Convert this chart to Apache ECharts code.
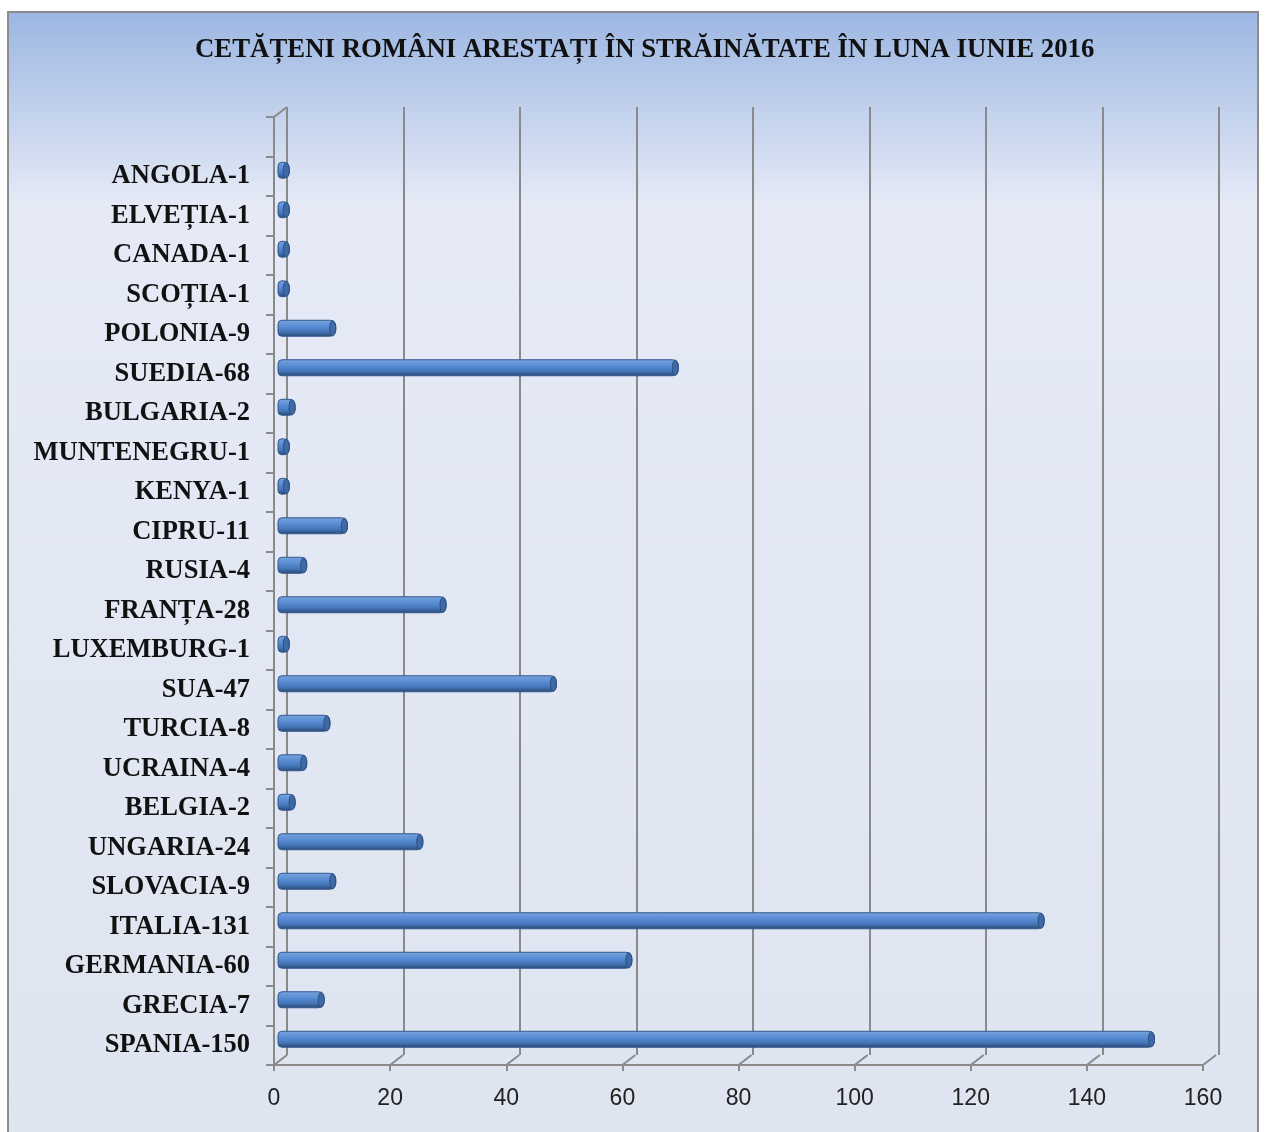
<!DOCTYPE html>
<html><head><meta charset="utf-8">
<script src="https://cdn.jsdelivr.net/npm/echarts@6/dist/echarts.min.js"></script>
<style>html,body{margin:0;padding:0;background:#fff;}#c{width:1267px;height:1132px;}</style>
</head><body><div id="c"></div>
<script>
// bottom-to-top order
const countries = ['SPANIA','GRECIA','GERMANIA','ITALIA','SLOVACIA','UNGARIA','BELGIA','UCRAINA','TURCIA','SUA','LUXEMBURG','FRANȚA','RUSIA','CIPRU','KENYA','MUNTENEGRU','BULGARIA','SUEDIA','POLONIA','SCOȚIA','CANADA','ELVEȚIA','ANGOLA'];
const values = [150,7,60,131,9,24,2,4,8,47,1,28,4,11,1,1,2,68,9,1,1,1,1];
const xTicks = [0,20,40,60,80,100,120,140,160];
const titleText = 'CETĂȚENI ROMÂNI ARESTAȚI ÎN STRĂINĂTATE ÎN LUNA IUNIE 2016';

const labels = countries.map((c,i)=>c+'-'+values[i]).concat(['']);

const dx = 13, dy = 10;
const front = {left:274, right:64, top:117, bottom:67};
const mid = {left:front.left+dx/2, right:front.right-dx/2, top:front.top-dy/2, bottom:front.bottom+dy/2};
const back = {left:front.left+dx, right:front.right-dx-3, top:front.top-dy, bottom:front.bottom+dy};
const gridCol = '#8a8a8a';

const chart = echarts.init(document.getElementById('c'), null, {renderer:'canvas'});
const valAxisBase = {type:'value', min:0, max:160, interval:20};
chart.setOption({
  backgroundColor:'#ffffff',
  animation:false,
  graphic:[{type:'rect', z:-10, shape:{x:8,y:12,width:1250,height:1130},
    style:{fill:{type:'linear',x:0,y:0,x2:0,y2:1,colorStops:[{offset:0,color:'#9cb6e2'},{offset:0.17,color:'#e5eaf6'},{offset:1,color:'#dee4f0'}]}, stroke:'#8c8c8c', lineWidth:2}}],
  title:{text:titleText, left:190, top:32, textStyle:{fontFamily:'Liberation Serif', fontWeight:'bold', fontSize:26.8, color:'#111'}},
  grid:[
    {left:front.left,right:front.right,top:front.top,bottom:front.bottom},
    {left:mid.left,right:mid.right,top:mid.top,bottom:mid.bottom},
    {left:back.left,right:back.right,top:back.top,bottom:back.bottom}
  ],
  xAxis:[
    Object.assign({gridIndex:0, axisLine:{show:true,lineStyle:{color:gridCol,width:2}}, axisTick:{show:true,length:6,lineStyle:{color:gridCol,width:2}},
      splitLine:{show:false}, axisLabel:{margin:22,fontFamily:'Liberation Sans',fontSize:23,color:'#222'}}, valAxisBase),
    Object.assign({gridIndex:1, show:false}, valAxisBase),
    Object.assign({gridIndex:2, axisLine:{show:false}, axisTick:{show:false}, axisLabel:{show:false}, splitLine:{show:true,lineStyle:{color:gridCol,width:2}}}, valAxisBase)
  ],
  yAxis:[
    {type:'category', gridIndex:0, data:labels, axisLine:{show:true,lineStyle:{color:gridCol,width:2}}, axisTick:{show:true,length:8,inside:false,lineStyle:{color:gridCol,width:2}},
      axisLabel:{margin:24,fontFamily:'Liberation Serif',fontWeight:'bold',fontSize:26.5,color:'#111'}},
    {type:'category', gridIndex:1, data:labels, show:false},
    {type:'category', gridIndex:2, data:labels, show:false}
  ],
  series:[
    {type:'custom', xAxisIndex:1, yAxisIndex:1, data:values.map((v,i)=>[v,i]), z:5,
      renderItem:function(params, api){
        const i = api.value(1);
        const p = api.coord([api.value(0), i]);
        const p0 = api.coord([0, i]);
        const h = 16;
        const x0 = p0[0]-2.5, x1 = p[0]+3;
        return {type:'group', children:[
          {type:'rect', shape:{x:x0, y:p[1]-h/2-1, width:x1-x0, height:h, r:[4,6,6,4]},
            style:{fill:{type:'linear',x:0,y:0,x2:0,y2:1,colorStops:[{offset:0,color:'#7aa3dc'},{offset:0.35,color:'#5b8fd6'},{offset:0.7,color:'#4676ba'},{offset:1,color:'#27466f'}]},
              stroke:'#33598e', lineWidth:1}},
          {type:'ellipse', shape:{cx:x1-3, cy:p[1]-1, rx:3, ry:h/2-0.5},
            style:{fill:'#3f6aa6', stroke:'#2c4d7d', lineWidth:1}}
        ]};
      }},
    {type:'custom', xAxisIndex:0, yAxisIndex:0, data:xTicks.map(v=>[v]), silent:true, z:1,
      renderItem:function(params, api){
        const cs = params.coordSys;
        const x = api.coord([api.value(0), 0])[0];
        const yb = cs.y + cs.height;
        const children = [{type:'line', shape:{x1:x,y1:yb,x2:x+dx,y2:yb-dy}, style:{stroke:gridCol,lineWidth:2}}];
        if (params.dataIndex===0) {
          children.push({type:'line', shape:{x1:x,y1:cs.y,x2:x+dx,y2:cs.y-dy}, style:{stroke:gridCol,lineWidth:2}});
        }
        return {type:'group', children:children};
      }}
  ]
});
</script></body></html>
